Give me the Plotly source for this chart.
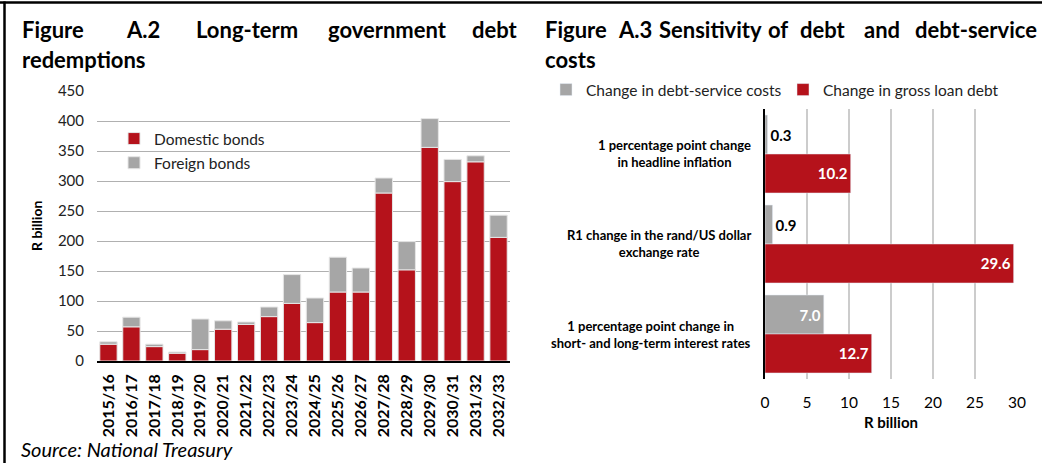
import plotly.graph_objects as go

W, H = 1042, 463
def px(x): return x / W
def py(y): return 1 - y / H

FONT = "Lato"
RED = "#B5121B"
GREY = "#A6A6A6"

# ---- data: Figure A.2 ----
years = ["2015/16", "2016/17", "2017/18", "2018/19", "2019/20", "2020/21", "2021/22",
         "2022/23", "2023/24", "2024/25", "2025/26", "2026/27", "2027/28", "2028/29",
         "2029/30", "2030/31", "2031/32", "2032/33"]
domestic = [28, 57, 24, 13, 19, 53, 61, 74, 96, 64, 115, 115, 280, 152, 356, 299, 332, 206]
foreign = [4, 16, 4, 2, 51, 14, 4, 16, 48, 41, 58, 40, 25, 47, 48, 37, 10, 37]

# ---- data: Figure A.3 ----
scenarios = ["inflation", "exchange", "interest"]
scenario_labels = ["1 percentage point change<br>in headline inflation",
                   "R1 change in the rand/US dollar<br>exchange rate",
                   "1 percentage point change in<br>short- and long-term interest rates"]
debt_service = [0.3, 0.9, 7.0]
gross_debt = [10.2, 29.6, 12.7]
ds_textpos = ["outside", "outside", "inside"]

fig = go.Figure()

fig.add_trace(go.Bar(x=years, y=domestic, name="Domestic bonds", marker_color=RED,
                     marker_line=dict(color="#e6e6e6", width=1), xaxis="x", yaxis="y",
                     legend="legend", legendgroup="dom"))
fig.add_trace(go.Bar(x=years, y=foreign, base=domestic, name="Foreign bonds", marker_color=GREY,
                     marker_line=dict(color="#e6e6e6", width=1), xaxis="x", yaxis="y",
                     legend="legend", legendgroup="for"))

bw = 0.433
fig.add_trace(go.Bar(y=scenarios, x=debt_service, orientation="h", name="Change in debt-service costs",
                     marker_color=GREY, width=bw, offset=-bw, xaxis="x2", yaxis="y2",
                     texttemplate="<b>%{x:.1f}</b>", textposition=ds_textpos,
                     insidetextanchor="end", cliponaxis=False,
                     insidetextfont=dict(color="white", size=15, family=FONT),
                     outsidetextfont=dict(color="black", size=15, family=FONT),
                     legend="legend2"))
fig.add_trace(go.Bar(y=scenarios, x=gross_debt, orientation="h", name="Change in gross loan debt",
                     marker_color=RED, width=bw, offset=0, xaxis="x2", yaxis="y2",
                     texttemplate="<b>%{x:.1f}</b>", textposition="inside",
                     insidetextanchor="end",
                     insidetextfont=dict(color="white", size=15, family=FONT),
                     legend="legend2"))

annotations = []
def ann(text, x, y, size=22, xanchor="center", yanchor="middle", bold=True, **kw):
    t = f"<b>{text}</b>" if bold else text
    annotations.append(dict(text=t, x=px(x), y=py(y), xref="paper", yref="paper",
                            showarrow=False, xanchor=xanchor, yanchor=yanchor,
                            font=dict(family=FONT, size=size, color="black"), **kw))

# Left title (justified)
ann("Figure", 20, 29, xanchor="left")
ann("A.2", 143, 29)
ann("Long-term", 247, 29)
ann("government", 387, 29)
ann("debt", 520, 29, xanchor="right")
ann("redemptions", 20, 60, xanchor="left")

# Right title (justified)
ann("Figure", 543, 29, xanchor="left")
ann("A.3", 635, 29)
ann("Sensitivity", 710, 29)
ann("of", 778, 29)
ann("debt", 823, 29)
ann("and", 882, 29)
ann("debt-service", 1039, 29, xanchor="right")
ann("costs", 543, 60, xanchor="left")

# Axis titles and source
ann("R billion", 36, 226, size=14, textangle=-90)
ann("R billion", 891, 422, size=15)
annotations.append(dict(text="<i>Source: National Treasury</i>", x=px(20), y=py(449),
                        xref="paper", yref="paper", showarrow=False, xanchor="left",
                        yanchor="middle", borderpad=0,
                        font=dict(family=FONT, size=20, color="black")))

# Right category labels
for lab, cat in zip(scenario_labels, scenarios):
    annotations.append(dict(text=f"<b>{lab}</b>", x=px(753), y=cat, xref="paper", yref="y2",
                            showarrow=False, xanchor="right", yanchor="middle", align="center",
                            font=dict(family=FONT, size=13, color="black")))

shapes = [
    dict(type="line", xref="paper", yref="paper", x0=0, x1=1, y0=py(2.5), y1=py(2.5),
         line=dict(color="black", width=2.5)),
    dict(type="line", xref="paper", yref="paper", x0=px(4.5), x1=px(4.5), y0=py(1.5), y1=0,
         line=dict(color="black", width=2.5)),
]

fig.update_layout(
    width=W, height=H, margin=dict(l=0, r=0, t=0, b=0),
    paper_bgcolor="white", plot_bgcolor="white",
    barmode="overlay", bargap=0.245,
    font=dict(family=FONT, size=14, color="black"),
    showlegend=True,
    xaxis=dict(domain=[px(97), px(510)], type="category", tickangle=-90,
               tickfont=dict(family=FONT, size=16, color="black", weight="bold"),
               showline=True, linecolor="black", linewidth=1.5, ticks="",
               showgrid=False, anchor="y", ticklabelstandoff=5, fixedrange=True,
               automargin=False),
    yaxis=dict(domain=[py(361), py(91)], range=[0, 450], dtick=50,
               showgrid=True, gridcolor="#b0b0b0", gridwidth=1, zeroline=False,
               tickfont=dict(family=FONT, size=15, color="#222"), ticks="",
               anchor="x", ticklabelstandoff=12, automargin=False),
    xaxis2=dict(domain=[px(765), px(1017)], range=[0, 30], dtick=5,
                showgrid=True, gridcolor="#cccccc", gridwidth=1.5, zeroline=False,
                tickfont=dict(family=FONT, size=15.5, color="black"), ticks="",
                anchor="y2", ticklabelstandoff=12, automargin=False),
    yaxis2=dict(domain=[py(379), py(109)], type="category", autorange="reversed",
                showticklabels=False, showline=True, linecolor="black", linewidth=1.5,
                showgrid=False, ticks="", anchor="x2", automargin=False),
    legend=dict(x=px(114), y=py(151), xanchor="left", yanchor="middle",
                bgcolor="rgba(0,0,0,0)", font=dict(family=FONT, size=15.5, color="#222"),
                tracegroupgap=1, itemwidth=30),
    legend2=dict(x=px(546), y=py(90), xanchor="left", yanchor="middle", orientation="h",
                 bgcolor="rgba(0,0,0,0)", font=dict(family=FONT, size=15.5, color="#222"),
                 itemwidth=30, entrywidth=192, entrywidthmode="pixels"),
    annotations=annotations,
    shapes=shapes,
)

fig.write_html("out.html")
